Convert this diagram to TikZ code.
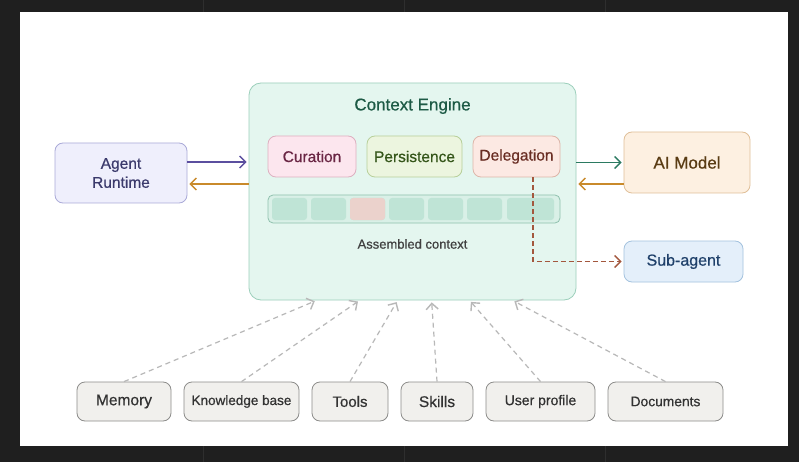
\documentclass[tikz,border=0pt]{standalone}
\usepackage{fontspec}
\setmainfont{Liberation Sans}[UprightFeatures={FakeBold=0.6}]
\usetikzlibrary{positioning,calc,arrows.meta}
\definecolor{DarkBg}{HTML}{1F1F1F}
\definecolor{EngineFill}{HTML}{E4F6EF}
\definecolor{EngineLine}{HTML}{9CCFBB}
\definecolor{EngineText}{HTML}{1D5A45}
\definecolor{CurFill}{HTML}{FCE6EE}
\definecolor{CurLine}{HTML}{DDB0C0}
\definecolor{CurText}{HTML}{6A2644}
\definecolor{PersFill}{HTML}{ECF5DF}
\definecolor{PersLine}{HTML}{B7CF99}
\definecolor{PersText}{HTML}{35561A}
\definecolor{DelFill}{HTML}{FCE9E3}
\definecolor{DelLine}{HTML}{DDB5A8}
\definecolor{DelText}{HTML}{6A2E24}
\definecolor{CellFill}{HTML}{BFE4D6}
\definecolor{CellPink}{HTML}{EBD2CC}
\definecolor{BarFill}{HTML}{D9F0E7}
\definecolor{BarLine}{HTML}{8FC1AE}
\definecolor{AgentFill}{HTML}{EFEFFC}
\definecolor{AgentLine}{HTML}{AAAAD8}
\definecolor{AgentText}{HTML}{3B3A6C}
\definecolor{ModelFill}{HTML}{FDF0E1}
\definecolor{ModelLine}{HTML}{E0BF98}
\definecolor{ModelText}{HTML}{5A3C14}
\definecolor{SubFill}{HTML}{E4EFFA}
\definecolor{SubLine}{HTML}{A3C2DE}
\definecolor{SubText}{HTML}{1F406A}
\definecolor{SrcFill}{HTML}{F1F0ED}
\definecolor{SrcLine}{HTML}{8C8C8A}
\definecolor{SrcText}{HTML}{333333}
\definecolor{ArrowPurple}{HTML}{5B4F9F}
\definecolor{ArrowOrange}{HTML}{C98A2B}
\definecolor{ArrowGreen}{HTML}{2B7A61}
\definecolor{ArrowBrown}{HTML}{A3573D}
\definecolor{ArrowGray}{HTML}{B8B8B8}
\tikzset{
    box/.style={rectangle, rounded corners=8pt, line width=0.8pt, align=center, inner sep=0pt},
    tip/.style={-{Straight Barb[length=6pt,width=12pt,line width=1.4pt]}}
}

\begin{document}
\begin{tikzpicture}[
        x=1pt, y=-1pt,
        % --- STYLE HOP ---
        engine_box/.style={box, rounded corners=12pt, fill=EngineFill, draw=EngineLine},
        % Hop chuc nang
        func_box/.style={box, minimum height=41pt, font=\fontsize{15.5}{18}\selectfont},
        % Hop nguon du lieu
        source_box/.style={box, fill=SrcFill, draw=SrcLine, minimum height=39pt, text=SrcText},
        % O ngu canh
        cell/.style={rectangle, rounded corners=3pt, fill=CellFill, minimum height=22pt, inner sep=0pt},
        % Mui ten
        link/.style={tip, line width=1.5pt, shorten >=2pt},
        feed/.style={tip, ArrowGray, line width=1.2pt, dashed, dash pattern=on 5pt off 4pt, shorten >=2pt}
    ]
        \useasboundingbox (0,0) rectangle (799,462);
        \fill[DarkBg] (0,0) rectangle (799,462);
        \foreach \gx in {203,404,605} {
            \draw[black!82, line width=0.6pt] (\gx,0) -- (\gx,12);
            \draw[black!82, line width=0.6pt] (\gx,446) -- (\gx,462);
        }
        \fill[white] (19.5,12) rectangle (787.5,446);

        % --- CONTEXT ENGINE ---
        \node[engine_box, minimum width=327pt, minimum height=217pt] (engine) at (412.5,191.5) {};
        \node[text=EngineText, font=\fontsize{17}{20}\selectfont] (title) at (412.5,106) {Context Engine};

        \node[func_box, fill=CurFill, draw=CurLine, text=CurText, minimum width=88pt] (cur) at (312,156.5) {Curation};
        \node[func_box, fill=PersFill, draw=PersLine, text=PersText, minimum width=95pt] (pers) at (414.5,156.5) {Persistence};
        \node[func_box, fill=DelFill, draw=DelLine, text=DelText, minimum width=87pt] (deleg) at (516.5,156.5) {Delegation};

        % --- ASSEMBLED CONTEXT ---
        \node[box, rounded corners=5pt, fill=BarFill, draw=BarLine, minimum width=292pt, minimum height=28pt] (bar) at (414,209) {};
        \foreach \i in {0,...,5} {
            \node[cell, minimum width=35pt] (cell\i) at (289.5+39*\i,209) {};
        }
        \node[cell, fill=CellPink, minimum width=35pt] at (cell2) {};
        \node[cell, minimum width=47pt] (cell6) at (530.5,209) {};
        \node[text=black!75, font=\fontsize{13}{15}\selectfont] (assembled) at (412.5,244) {Assembled context};

        % --- TAC NHAN / MO HINH ---
        \node[box, fill=AgentFill, draw=AgentLine, text=AgentText, minimum width=132pt, minimum height=60pt,
              font=\fontsize{15.5}{19}\selectfont] (agent) at (121,173) {Agent\\Runtime};
        \node[box, fill=ModelFill, draw=ModelLine, text=ModelText, minimum width=126pt, minimum height=61pt,
              font=\fontsize{17}{20}\selectfont] (model) at (687,162.5) {AI Model};
        \node[box, fill=SubFill, draw=SubLine, text=SubText, minimum width=119pt, minimum height=41pt,
              font=\fontsize{16}{19}\selectfont] (sub) at (683.5,261.5) {Sub-agent};

        % --- MUI TEN NGANG ---
        \draw[link, ArrowPurple] ($(agent.east)+(0,-11)$) -- ($(agent.east -| engine.west)+(0,-11)$);
        \draw[link, ArrowOrange] ($(agent.east -| engine.west)+(0,11)$) -- ($(agent.east)+(0,11)$);
        \draw[link, ArrowGreen] (model.west -| engine.east) -- (model.west);
        \draw[link, ArrowOrange] ($(model.west)+(0,21.5)$) -- ($(model.west -| engine.east)+(0,21.5)$);
        \draw[link, ArrowBrown, line width=1.3pt, dashed, dash pattern=on 5pt off 3pt] ($(deleg.south)+(16.5,0)$) |- (sub.west);

        % --- NGUON DU LIEU ---
        \node[source_box, minimum width=94pt, font=\fontsize{15.5}{18}\selectfont] (mem) at (124,401.5) {Memory};
        \node[source_box, minimum width=115pt, font=\fontsize{13.5}{16}\selectfont] (kb) at (241.5,401.5) {Knowledge base};
        \node[source_box, minimum width=76pt, font=\fontsize{15}{18}\selectfont] (tools) at (350,401.5) {Tools};
        \node[source_box, minimum width=72pt, font=\fontsize{15.5}{18}\selectfont] (skills) at (437,401.5) {Skills};
        \node[source_box, minimum width=109pt, font=\fontsize{14}{17}\selectfont] (profile) at (540.5,401.5) {User profile};
        \node[source_box, minimum width=115pt, font=\fontsize{13.8}{16}\selectfont] (docs) at (665.5,401.5) {Documents};

        % --- MUI TEN NET DUT ---
        \foreach \src/\dx in {mem/68, kb/111, tools/149, skills/183, profile/221, docs/264} {
            \draw[feed] (\src.north) -- ($(engine.south west)+(\dx,0)$);
        }

    \end{tikzpicture}
\end{document}
